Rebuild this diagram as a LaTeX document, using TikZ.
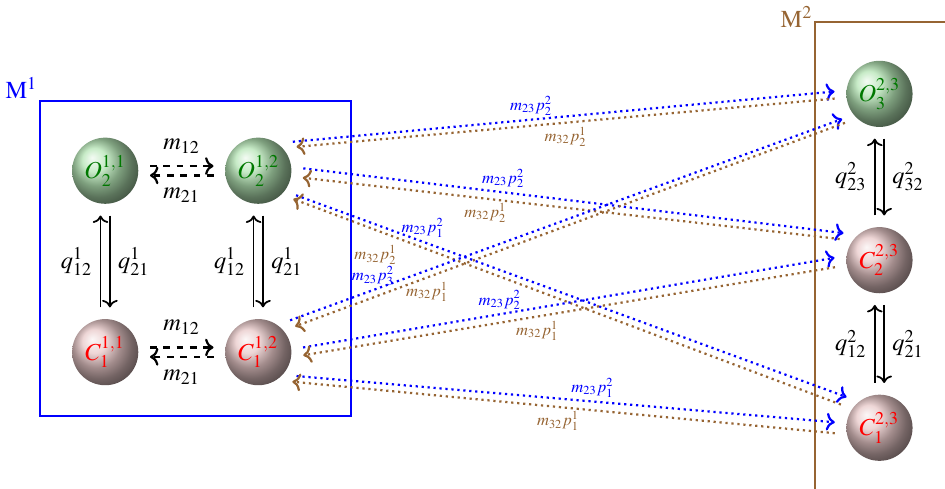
\documentclass[tikz,border=0pt]{standalone}
\usepackage{mathptmx}
\usepackage{tikz}
\usetikzlibrary{positioning, calc, arrows.meta}
\definecolor{ballGreen}{RGB}{180, 228, 180}
\definecolor{ballPink}{RGB}{232, 200, 200}
\definecolor{labGreen}{RGB}{0, 120, 0}
\definecolor{mBrown}{RGB}{150, 100, 50}
\definecolor{mBlue}{RGB}{0, 0, 255}
\tikzset{
  ballO/.style={circle, ball color=ballGreen, text=labGreen,
                minimum size=1.05cm, inner sep=0pt, outer sep=0.19cm,
                font=\fontsize{11}{13}\selectfont},
  ballC/.style={circle, ball color=ballPink, text=red,
                minimum size=1.05cm, inner sep=0pt, outer sep=0.19cm,
                font=\fontsize{11}{13}\selectfont},
}

\begin{document}
\begin{tikzpicture}[
    font=\fontsize{11}{13}\selectfont,
    fwd/.style={->, line width=1pt, dash pattern=on 1pt off 1.7pt, mBlue,
                every node/.style={font=\fontsize{7.5}{9}\selectfont, inner sep=1.5pt}},
    bwd/.style={->, line width=1pt, dash pattern=on 1pt off 1.7pt, mBrown,
                every node/.style={font=\fontsize{7.5}{9}\selectfont, inner sep=1.5pt}},
    mig/.style={->, line width=1pt, dashed},
    jump/.style={->, thick},
  ]
    \useasboundingbox (0,0) rectangle (15,-7.762);

    % Machine M1
    \draw[mBlue, thick] (0.635,-1.603) coordinate (M1nw) rectangle (5.571,-6.603);
    \node[anchor=south east, inner sep=1pt, text=mBlue] (M1lab) at (M1nw) {$\mathrm{M}^1$};

    % Machine M2 (runs off the page)
    \coordinate (M2nw) at (12.937,-0.349);
    \draw[mBrown, thick] (12.937,-7.9) -- (M2nw) -- (15.1,-0.349);
    \node[anchor=east, inner sep=1pt, text=mBrown] (M2lab) at ([yshift=0.08cm]M2nw) {$\mathrm{M}^2$};

    % States of M1
    \node[ballO] (O11) at (1.67,-2.71) {$O_2^{1,1}$};
    \node[ballO] (O12) at (4.1,-2.71) {$O_2^{1,2}$};
    \node[ballC] (C11) at (1.67,-5.59) {$C_1^{1,1}$};
    \node[ballC] (C12) at (4.1,-5.59) {$C_1^{1,2}$};

    % States of M2
    \node[ballO] (O23) at (13.96,-1.49) {$O_3^{2,3}$};
    \node[ballC] (C22) at (13.96,-4.13) {$C_2^{2,3}$};
    \node[ballC] (C21) at (13.96,-6.79) {$C_1^{2,3}$};

    % Migration inside M1
    \draw[mig] (O11.6) -- node[above=2pt] {$m_{12}$} (O12.174);
    \draw[mig] (O12.186) -- node[below=2pt] {$m_{21}$} (O11.-6);
    \draw[mig] (C11.6) -- node[above=2pt] {$m_{12}$} (C12.174);
    \draw[mig] (C12.186) -- node[below=2pt] {$m_{21}$} (C11.-6);

    % Transitions
    \draw[jump] (C11.96) -- node[left] {$q_{12}^1$} (O11.264);
    \draw[jump] (O11.276) -- node[right] {$q_{21}^1$} (C11.84);
    \draw[jump] (C12.96) -- node[left] {$q_{12}^1$} (O12.264);
    \draw[jump] (O12.276) -- node[right] {$q_{21}^1$} (C12.84);
    \draw[jump] (C22.96) -- node[left] {$q_{23}^2$} (O23.264);
    \draw[jump] (O23.276) -- node[right] {$q_{32}^2$} (C22.84);
    \draw[jump] (C21.96) -- node[left] {$q_{12}^2$} (C22.264);
    \draw[jump] (C22.276) -- node[right] {$q_{21}^2$} (C21.84);

    % Migration between M1 and M2
    \draw[fwd] (O12.40) -- node[pos=0.44, above] {$m_{23}p_2^2$} (O23.177);
    \draw[bwd] (O23.186) -- node[pos=0.5, below] {$m_{32}p_2^1$} (O12.32);
    \draw[fwd] (O12.3) -- node[pos=0.37, above] {$m_{23}p_2^2$} (C22.143);
    \draw[bwd] (C22.152) -- node[pos=0.66, below] {$m_{32}p_2^1$} (O12.-9);
    \draw[fwd] (O12.-33) -- node[pos=0.23, above] {$m_{23}p_1^2$} (C21.137);
    \draw[bwd] (C21.149) -- node[pos=0.85, below=5pt] {$m_{32}p_2^1$} (O12.-39);
    \draw[fwd] (C12.45) -- node[pos=0.15, above] {$m_{23}p_3^2$} (O23.214);
    \draw[bwd] (O23.220) -- node[pos=0.76, below] {$m_{32}p_1^1$} (C12.35);
    \draw[fwd] (C12.6) -- node[pos=0.37, above] {$m_{23}p_2^2$} (C22.177);
    \draw[bwd] (C22.189) -- node[pos=0.56, below] {$m_{32}p_1^1$} (C12.-4);
    \draw[fwd] (C12.-32) -- node[pos=0.55, above] {$m_{23}p_1^2$} (C21.173);
    \draw[bwd] (C21.187) -- node[pos=0.51, below] {$m_{32}p_1^1$} (C12.-41);
  \end{tikzpicture}
\end{document}
